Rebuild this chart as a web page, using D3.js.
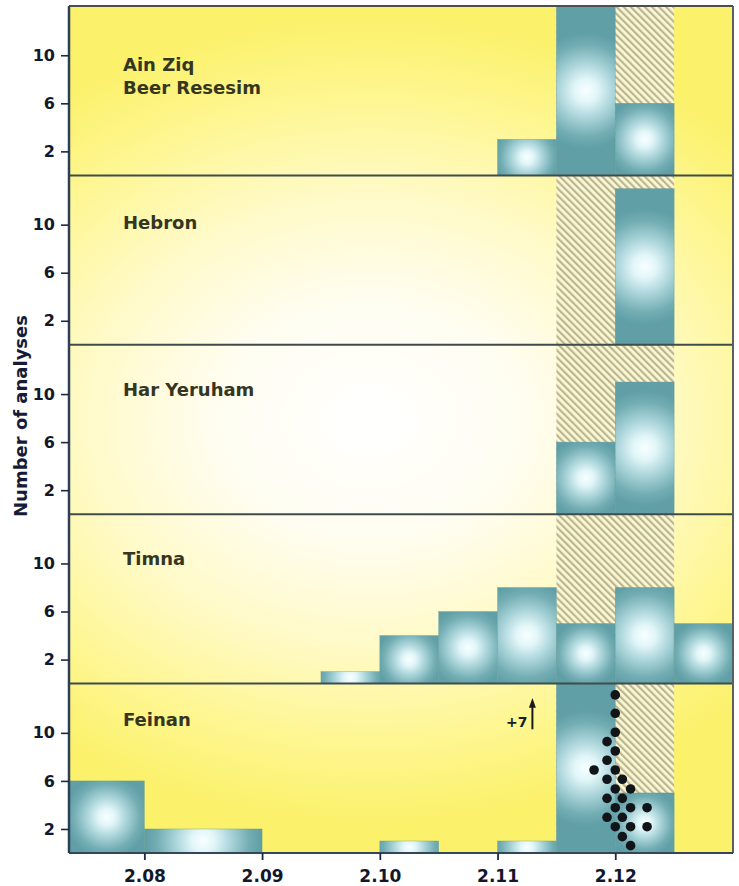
<!DOCTYPE html>
<html><head><meta charset="utf-8">
<script src="https://cdn.jsdelivr.net/npm/d3@7"></script>
<style>body{margin:0;background:#fff}svg{display:block}</style>
</head><body>
<svg id="c" width="739" height="886"></svg>
<script>
// ---- data ----
const siteNames = [["Ain Ziq","Beer Resesim"],["Hebron"],["Har Yeruham"],["Timna"],["Feinan"]];
const xTicks = [2.08, 2.09, 2.10, 2.11, 2.12];
const yTicks = [2, 6, 10];
const hatchRange = [2.115, 2.125];
// bins: [lower edge, upper edge, number of analyses]
const binsAinZiq = [[2.110,2.115,3],[2.115,2.120,15],[2.120,2.125,6]];
const binsHebron = [[2.120,2.125,13]];
const binsHarYeruham = [[2.115,2.120,6],[2.120,2.125,11]];
const binsTimna = [[2.095,2.100,1],[2.100,2.105,4],[2.105,2.110,6],[2.110,2.115,8],[2.115,2.120,5],[2.120,2.125,8],[2.125,2.130,5]];
const binsFeinan = [[2.070,2.080,6],[2.080,2.090,2],[2.100,2.105,1],[2.110,2.115,1],[2.115,2.120,21],[2.120,2.125,5]];
const feinanOverflow = "+7";
// individual analyses plotted as dots in the Feinan panel
const dotX = [2.1200,2.1200,2.1200,2.1193,2.1200,2.1193,2.1182,2.1200,2.1193,2.1206,2.1200,2.1213,2.1193,2.1206,2.1200,2.1213,2.1227,2.1193,2.1206,2.1200,2.1213,2.1227,2.1206,2.1213];
const dotY = [13.16,11.63,10.05,9.27,8.49,7.72,6.91,6.91,6.14,6.14,5.33,5.33,4.55,4.55,3.77,3.77,3.77,2.97,2.97,2.19,2.19,2.19,1.36,0.61];
const allBins = [binsAinZiq, binsHebron, binsHarYeruham, binsTimna, binsFeinan];

// ---- layout ----
const pL = 69, pR = 733, pT = 6, pB = 853;
const panelH = (pB - pT) / 5;
const yMax = 14.1;
const titleOffsets = [65, 54, 51, 51, 42];
const FONT = "'DejaVu Sans', Arial, sans-serif";

const svg = d3.select("#c");
const defs = svg.append("defs");

const x = d3.scaleLinear().domain([2.0736, 2.13]).range([pL, pR]);
const yScales = siteNames.map((_, i) =>
  d3.scaleLinear().domain([0, yMax]).range([pT + (i + 1) * panelH, pT + i * panelH]));

// background gradient (elliptical)
const bg = defs.append("radialGradient").attr("id", "bg")
  .attr("gradientUnits", "userSpaceOnUse").attr("cx", 0).attr("cy", 0).attr("r", 520)
  .attr("gradientTransform", "translate(370,420) scale(1,0.78)");
[[0, "#ffffff"], [0.3, "#fffdf0"], [0.55, "#fffac8"], [0.8, "#fef690"], [1, "#fbf16a"]]
  .forEach(([o, c]) => bg.append("stop").attr("offset", o).attr("stop-color", c));

const barStops = [[0, "#f8ffff"], [0.2, "#e2f6f9"], [0.5, "#a6d2d7"], [0.8, "#72adb3"], [1, "#609fa6"]];

// hatch pattern
const pat = defs.append("pattern").attr("id", "hatch").attr("patternUnits", "userSpaceOnUse")
  .attr("width", 5).attr("height", 5).attr("patternTransform", "rotate(-45)");
pat.append("rect").attr("width", 5).attr("height", 5).attr("fill", "#fbf8d6");
pat.append("rect").attr("width", 2.2).attr("height", 5).attr("fill", "#bbb68f");

defs.append("clipPath").attr("id", "plotclip").append("rect")
  .attr("x", pL).attr("y", pT).attr("width", pR - pL).attr("height", pB - pT);

const plot = svg.append("g").attr("clip-path", "url(#plotclip)");
plot.append("rect").attr("x", pL).attr("y", pT).attr("width", pR - pL)
  .attr("height", pB - pT).attr("fill", "url(#bg)");

const [d0, d1] = x.domain();
let gid = 0;
allBins.forEach((bins, i) => {
  const y = yScales[i];
  const g = plot.append("g");
  g.append("rect").attr("x", x(hatchRange[0])).attr("width", x(hatchRange[1]) - x(hatchRange[0]))
    .attr("y", y(yMax)).attr("height", y(0) - y(yMax)).attr("fill", "url(#hatch)");
  bins.forEach(([lo, hi, n]) => {
    const xa = x(Math.max(lo, d0)), xb = x(Math.min(hi, d1));
    const yt = y(Math.min(n, yMax)), yb = y(0);
    const w = xb - xa, h = yb - yt;
    const id = "bar" + (gid++);
    const gr = defs.append("radialGradient").attr("id", id).attr("gradientUnits", "userSpaceOnUse")
      .attr("cx", (xa + xb) / 2).attr("cy", (yt + yb) / 2)
      .attr("r", Math.max(28, Math.min(58, 0.55 * Math.max(w, h))));
    barStops.forEach(([o, c]) => gr.append("stop").attr("offset", o).attr("stop-color", c));
    g.append("rect").attr("x", xa).attr("y", yt).attr("width", w).attr("height", h)
      .attr("fill", `url(#${id})`).attr("stroke", "#5f9aa0").attr("stroke-width", 0.6).attr("stroke-opacity", 0.6);
  });
});

// dots (Feinan)
const yF = yScales[4];
plot.append("g").selectAll("circle").data(dotX.map((v, k) => [v, dotY[k]])).join("circle")
  .attr("cx", d => x(d[0])).attr("cy", d => yF(d[1])).attr("r", 4.8).attr("fill", "#111418");

// overflow annotation
const tall = binsFeinan.find(b => b[2] > yMax);
const ax = x(tall[0]) - 24;
svg.append("line").attr("x1", ax).attr("x2", ax).attr("y1", yF(10.3)).attr("y2", yF(12.3))
  .attr("stroke", "#1a1a22").attr("stroke-width", 2);
svg.append("path").attr("d", `M${ax - 3.5},${yF(12.1)} L${ax},${yF(12.9)} L${ax + 3.5},${yF(12.1)} Z`).attr("fill", "#1a1a22");
svg.append("text").attr("x", ax - 5).attr("y", yF(10.45)).attr("text-anchor", "end")
  .attr("font-family", FONT).attr("font-weight", "bold").attr("font-size", 14).attr("fill", "#1a1a22")
  .text(feinanOverflow);

// panel dividers and frame
for (let i = 1; i < 5; i++) {
  svg.append("line").attr("x1", pL).attr("x2", pR).attr("y1", pT + i * panelH).attr("y2", pT + i * panelH)
    .attr("stroke", "#3e4c4c").attr("stroke-width", 2);
}
svg.append("line").attr("x1", pL).attr("x2", pR).attr("y1", pT).attr("y2", pT).attr("stroke", "#4a5050").attr("stroke-width", 2);
svg.append("line").attr("x1", pR).attr("x2", pR).attr("y1", pT).attr("y2", pB).attr("stroke", "#5a6060").attr("stroke-width", 2);
svg.append("line").attr("x1", pL).attr("x2", pR).attr("y1", pB).attr("y2", pB).attr("stroke", "#33465a").attr("stroke-width", 2);
svg.append("line").attr("x1", pL).attr("x2", pL).attr("y1", pT).attr("y2", pB).attr("stroke", "#2e3f58").attr("stroke-width", 2.5);

// y axes
yScales.forEach((y, i) => {
  const ga = svg.append("g").attr("transform", `translate(${pL},0)`)
    .call(d3.axisLeft(y).tickValues(yTicks).tickSize(8).tickPadding(6).tickFormat(d3.format("d")));
  ga.select(".domain").remove();
  ga.selectAll("line").attr("stroke", "#1e2a44").attr("stroke-width", 1.6);
  ga.selectAll("text").attr("font-family", FONT).attr("font-weight", "bold").attr("font-size", 16).attr("fill", "#12172a");
  const t = svg.append("text").attr("x", 123).attr("y", pT + i * panelH + titleOffsets[i])
    .attr("font-family", FONT).attr("font-weight", "bold").attr("font-size", 18).attr("fill", "#34361f");
  siteNames[i].forEach((s, k) => t.append("tspan").attr("x", 123).attr("dy", k ? 23 : 0).text(s));
});

// x axis
const gx = svg.append("g").attr("transform", `translate(0,${pB})`)
  .call(d3.axisBottom(x).tickValues(xTicks).tickSize(7).tickPadding(10).tickFormat(d3.format(".2f")));
gx.select(".domain").remove();
gx.selectAll("line").attr("stroke", "#1e2a44").attr("stroke-width", 1.8);
gx.selectAll("text").attr("font-family", FONT).attr("font-weight", "bold").attr("font-size", 17).attr("fill", "#12172a");

// y label
svg.append("text").attr("transform", "translate(27,416) rotate(-90)").attr("text-anchor", "middle")
  .attr("font-family", FONT).attr("font-weight", "bold").attr("font-size", 18).attr("fill", "#161c36")
  .text("Number of analyses");
</script>
</body></html>
